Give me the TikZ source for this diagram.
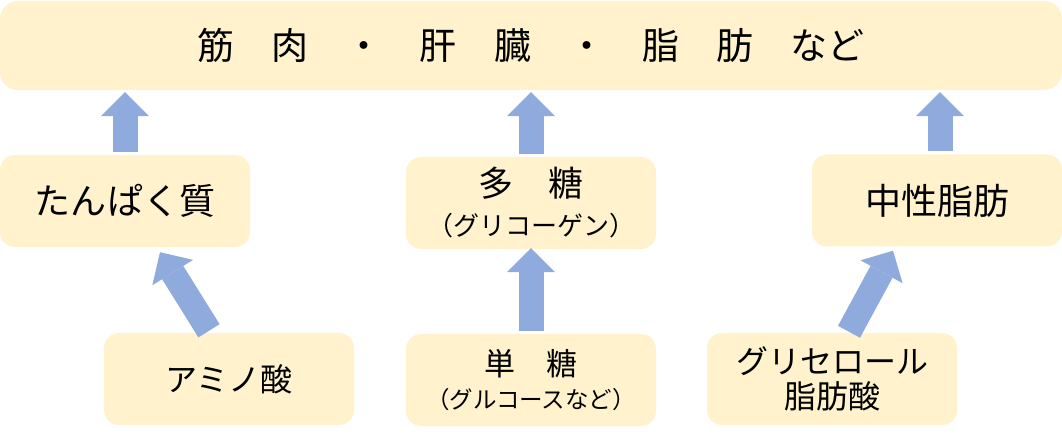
\documentclass[tikz,border=0pt]{standalone}
\usepackage{fontspec}
\setmainfont{Noto Sans CJK JP}
\usetikzlibrary{arrows.meta,calc}
\definecolor{boxfill}{HTML}{FFF2CC}
\definecolor{arrowblue}{HTML}{8FAADC}

\begin{document}
\begin{tikzpicture}[x=1bp, y=-1bp,
		box/.style={
			rectangle,
			fill=boxfill,
			rounded corners=15bp,
			minimum width=250bp,
			minimum height=92bp,
			align=center,
			inner sep=0pt
		},
		big/.style={font=\fontsize{36bp}{40bp}\selectfont},
		mid/.style={font=\fontsize{32bp}{35bp}\selectfont},
		blockarrow/.style={-{Triangle[width=48bp, length=24bp, line width=0bp]}, line width=25bp, color=arrowblue}
		]
		\useasboundingbox (0,0) rectangle (1062,437);
		
		% --- Top box ---
		\node[box, minimum width=1062bp, minimum height=89bp, rounded corners=18bp, font=\fontsize{37bp}{40bp}\selectfont] (Body) at (531,45.5) {筋　肉　・　肝　臓　・　脂　肪　など};
		
		% --- Middle row ---
		\node[box, big] (Prot) at (125,201) {たんぱく質};
		\node[box, font=\fontsize{35bp}{39bp}\selectfont] (Poly) at (531,203) {多　糖\\{\fontsize{26bp}{30bp}\selectfont （グリコーゲン）}};
		\node[box, big] (TG) at (937,200.5) {中性脂肪};
		
		% --- Bottom row ---
		\node[box, mid] (Amino) at (229,379) {アミノ酸};
		\node[box, font=\fontsize{31bp}{33bp}\selectfont] (Mono) at (531,380) {単　糖\\{\fontsize{23.5bp}{27bp}\selectfont （グルコースなど）}};
		\node[box, mid] (Glyc) at (832,379) {グリセロール\\脂肪酸};
		
		% --- Arrows to the top box ---
		\draw[blockarrow] ($(Prot.north)+(0,-3)$) -- ($(Prot.north |- Body.south)+(0,2)$);
		\draw[blockarrow] ($(Poly.north)+(0,-3)$) -- ($(Poly.north |- Body.south)+(0,2)$);
		\draw[blockarrow] ($(TG.north)+(3,-3)$) -- ($(TG.north |- Body.south)+(3,2)$);
		
		% --- Arrows from the bottom row ---
		\draw[blockarrow] ($(Amino.north)+(-20,-2)$) -- ($(Prot.south)+(35,5)$);
		\draw[blockarrow] ($(Mono.north)+(0,-3)$) -- ($(Poly.south)+(0,-1)$);
		\draw[blockarrow] ($(Glyc.north)+(17,-1)$) -- ($(TG.south)+(-44,4)$);
		
	\end{tikzpicture}
\end{document}
